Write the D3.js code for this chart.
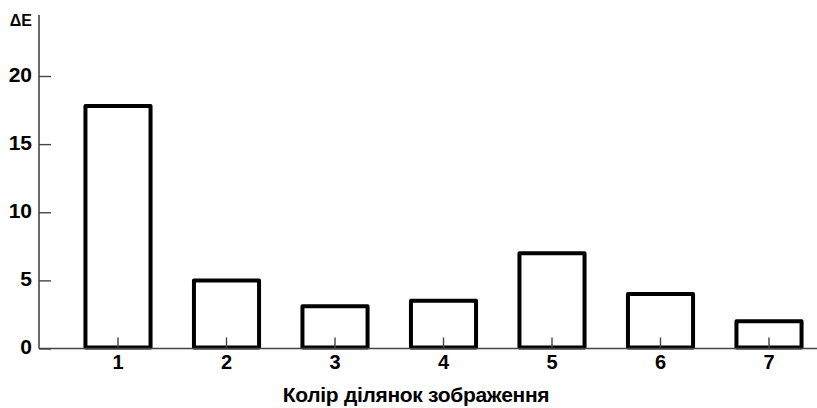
<!DOCTYPE html>
<html>
<head>
<meta charset="utf-8">
<script src="https://cdn.jsdelivr.net/npm/d3@7"></script>
<style>
body { margin: 0; background: #fff; }
svg { display: block; }
text { font-family: "Liberation Sans", Arial, sans-serif; fill: #000; }
</style>
</head>
<body>
<svg id="chart" width="817" height="408"></svg>
<script>
const categories = ["1", "2", "3", "4", "5", "6", "7"];
const values = [17.8, 5.0, 3.1, 3.5, 7.0, 4.0, 2.0];
const yTicks = [0, 5, 10, 15, 20];
const yLabel = "ΔE";
const xLabel = "Колір ділянок зображення";

const svg = d3.select("#chart");
const axisX0 = 39, axisRight = 817;
const FONT = "Liberation Sans, Arial, sans-serif";

const x = d3.scaleBand().domain(categories).range([63.75, 823.25]).paddingInner(0.4).paddingOuter(0.2);
const y = d3.scaleLinear().domain([0, 20]).range([348.5, 76]);

// bars
svg.append("g").selectAll("rect").data(values).join("rect")
  .attr("x", (d, i) => x(categories[i]))
  .attr("width", x.bandwidth())
  .attr("y", d => y(d))
  .attr("height", d => y(0) - y(d) - 1)
  .attr("fill", "none")
  .attr("stroke", "#000")
  .attr("stroke-width", 4)
  .attr("stroke-linejoin", "round");

// y axis
const yAxis = svg.append("g").attr("transform", `translate(${axisX0},0)`)
  .call(d3.axisRight(y).tickValues(yTicks).tickSize(12).tickFormat(d3.format("d")));
yAxis.select(".domain").remove();
yAxis.selectAll(".tick line").attr("stroke", "#444").attr("stroke-width", 1.4);
yAxis.selectAll(".tick text").attr("x", -7).attr("text-anchor", "end")
  .attr("font-size", 21).attr("font-weight", "bold").attr("font-family", FONT)
  .attr("dy", "0.25em");
svg.append("line").attr("x1", axisX0).attr("x2", axisX0).attr("y1", 15).attr("y2", y(0))
  .attr("stroke", "#444").attr("stroke-width", 1.6);

// x axis
const xAxis = svg.append("g").attr("transform", `translate(0,${y(0)})`)
  .call(d3.axisTop(x).tickSize(11).tickFormat(d => d));
xAxis.select(".domain").remove();
xAxis.selectAll(".tick line").attr("stroke", "#444").attr("stroke-width", 1.4);
xAxis.selectAll(".tick text").attr("y", 20).attr("dy", 0).attr("font-size", 20)
  .attr("font-weight", "bold").attr("font-family", FONT);
svg.append("line").attr("x1", axisX0).attr("x2", axisRight).attr("y1", y(0)).attr("y2", y(0))
  .attr("stroke", "#444").attr("stroke-width", 1.4);

// labels
svg.append("text").attr("x", 32).attr("y", 26).attr("text-anchor", "end")
  .attr("font-size", 16).attr("font-weight", "bold").text(yLabel);
svg.append("text").attr("x", 416).attr("y", 402).attr("text-anchor", "middle")
  .attr("font-size", 21).attr("font-weight", "bold").attr("letter-spacing", -0.3).text(xLabel);
</script>
</body>
</html>
